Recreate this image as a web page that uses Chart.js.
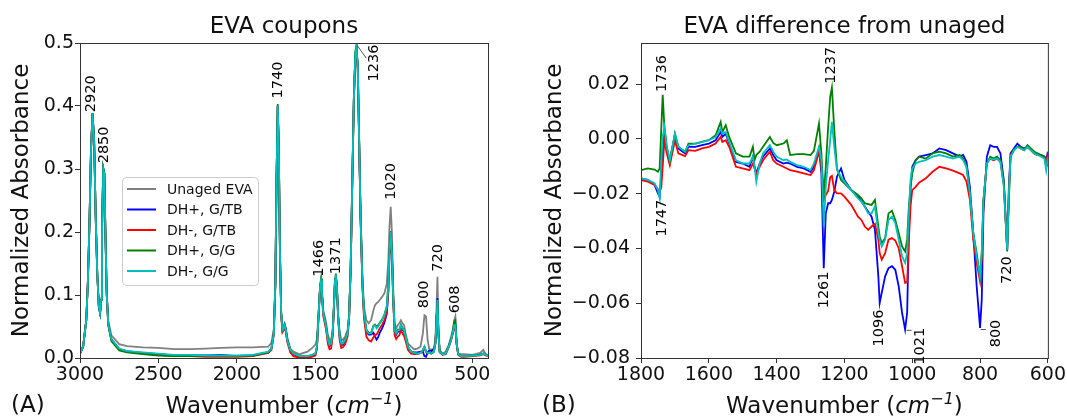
<!DOCTYPE html>
<html>
<head>
<meta charset="utf-8">
<script src="https://cdn.jsdelivr.net/npm/chart.js@4.4.1/dist/chart.umd.min.js"></script>
<style>
  body { margin: 0; background: #fff; width: 1067px; height: 418px; overflow: hidden; position: relative; }
  canvas { position: absolute; top: 0; }
</style>
</head>
<body>
<canvas id="chartA" width="533" height="418" style="left:0"></canvas>
<canvas id="chartB" width="534" height="418" style="left:533px"></canvas>
<script>
// ---- (A) EVA coupons ----
const wavenumberA = [3000, 2980, 2960, 2950, 2940, 2930, 2920, 2910, 2900, 2890,
  2880, 2872, 2865, 2860, 2852, 2845, 2838, 2830, 2820, 2800,
  2750, 2700, 2600, 2500, 2400, 2300, 2200, 2100, 2000, 1900,
  1800, 1780, 1765, 1755, 1748, 1740, 1733, 1726, 1718, 1710,
  1703, 1696, 1688, 1680, 1660, 1640, 1600, 1550, 1520, 1500,
  1490, 1480, 1470, 1464, 1458, 1450, 1440, 1432, 1420, 1410,
  1400, 1390, 1382, 1375, 1370, 1363, 1355, 1345, 1335, 1325,
  1310, 1295, 1285, 1275, 1265, 1255, 1245, 1238, 1230, 1222,
  1212, 1200, 1190, 1175, 1160, 1145, 1130, 1120, 1110, 1100,
  1090, 1075, 1060, 1045, 1035, 1028, 1020, 1012, 1005, 995,
  985, 975, 965, 955, 945, 935, 925, 910, 890, 870,
  850, 830, 815, 805, 795, 785, 775, 760, 745, 735,
  728, 722, 716, 708, 690, 670, 650, 635, 625, 615,
  608, 600, 590, 570, 550, 500, 450, 430, 415, 400];

const unagedA = [0.008, 0.020, 0.062, 0.121, 0.210, 0.330, 0.388, 0.346, 0.226, 0.136,
  0.084, 0.074, 0.095, 0.200, 0.301, 0.294, 0.200, 0.108, 0.060, 0.036,
  0.022, 0.019, 0.017, 0.016, 0.014, 0.014, 0.015, 0.016, 0.017, 0.017,
  0.018, 0.024, 0.046, 0.122, 0.279, 0.400, 0.331, 0.173, 0.075, 0.049,
  0.051, 0.055, 0.048, 0.034, 0.015, 0.010, 0.006, 0.010, 0.016, 0.021,
  0.030, 0.072, 0.114, 0.121, 0.106, 0.076, 0.066, 0.057, 0.036, 0.029,
  0.029, 0.044, 0.084, 0.125, 0.131, 0.115, 0.071, 0.040, 0.029, 0.029,
  0.034, 0.044, 0.070, 0.148, 0.279, 0.410, 0.483, 0.494, 0.463, 0.360,
  0.230, 0.129, 0.081, 0.060, 0.055, 0.060, 0.076, 0.084, 0.087, 0.089,
  0.092, 0.097, 0.103, 0.118, 0.156, 0.208, 0.240, 0.198, 0.118, 0.055,
  0.047, 0.052, 0.055, 0.060, 0.055, 0.052, 0.039, 0.023, 0.018, 0.014,
  0.015, 0.018, 0.039, 0.068, 0.066, 0.029, 0.015, 0.013, 0.015, 0.029,
  0.080, 0.129, 0.050, 0.013, 0.007, 0.010, 0.021, 0.034, 0.044, 0.060,
  0.066, 0.025, 0.007, 0.006, 0.006, 0.005, 0.008, 0.013, 0.006, 0.005];

const dhPlusGtbA = [0.007, 0.018, 0.060, 0.120, 0.210, 0.330, 0.388, 0.346, 0.224, 0.134,
  0.081, 0.071, 0.092, 0.198, 0.301, 0.293, 0.198, 0.103, 0.054, 0.030,
  0.014, 0.011, 0.008, 0.006, 0.004, 0.004, 0.004, 0.005, 0.003, 0.004,
  0.009, 0.015, 0.039, 0.118, 0.277, 0.400, 0.330, 0.171, 0.071, 0.044,
  0.047, 0.052, 0.044, 0.029, 0.012, 0.006, 0.002, 0.002, 0.004, 0.006,
  0.017, 0.065, 0.112, 0.122, 0.102, 0.070, 0.059, 0.049, 0.027, 0.019,
  0.021, 0.038, 0.080, 0.123, 0.131, 0.112, 0.065, 0.032, 0.021, 0.021,
  0.027, 0.038, 0.065, 0.144, 0.276, 0.409, 0.481, 0.490, 0.460, 0.355,
  0.222, 0.116, 0.069, 0.042, 0.037, 0.037, 0.040, 0.034, 0.029, 0.033,
  0.040, 0.047, 0.056, 0.070, 0.105, 0.160, 0.195, 0.162, 0.100, 0.042,
  0.037, 0.042, 0.042, 0.050, 0.045, 0.042, 0.032, 0.016, 0.010, 0.009,
  0.009, 0.010, 0.010, 0.003, 0.002, 0.008, 0.012, 0.011, 0.014, 0.025,
  0.062, 0.095, 0.040, 0.010, 0.006, 0.007, 0.018, 0.029, 0.039, 0.051,
  0.051, 0.022, 0.006, 0.003, 0.003, 0.004, 0.005, 0.007, 0.005, 0.004];

const dhMinusGtbA = [0.007, 0.018, 0.060, 0.120, 0.210, 0.330, 0.388, 0.346, 0.224, 0.134,
  0.081, 0.071, 0.092, 0.198, 0.301, 0.293, 0.198, 0.103, 0.053, 0.029,
  0.013, 0.010, 0.007, 0.005, 0.003, 0.003, 0.002, 0.002, 0.002, 0.003,
  0.008, 0.013, 0.037, 0.116, 0.275, 0.399, 0.328, 0.169, 0.068, 0.041,
  0.044, 0.049, 0.041, 0.026, 0.009, 0.003, 0.000, 0.000, 0.002, 0.004,
  0.015, 0.063, 0.111, 0.121, 0.100, 0.067, 0.055, 0.045, 0.022, 0.014,
  0.015, 0.033, 0.077, 0.122, 0.130, 0.110, 0.062, 0.028, 0.016, 0.017,
  0.022, 0.034, 0.061, 0.141, 0.274, 0.408, 0.481, 0.492, 0.459, 0.352,
  0.218, 0.111, 0.062, 0.034, 0.028, 0.026, 0.033, 0.037, 0.037, 0.042,
  0.047, 0.053, 0.060, 0.074, 0.110, 0.165, 0.198, 0.163, 0.097, 0.036,
  0.030, 0.034, 0.036, 0.044, 0.039, 0.035, 0.027, 0.013, 0.007, 0.006,
  0.006, 0.008, 0.011, 0.016, 0.009, 0.007, 0.008, 0.007, 0.010, 0.023,
  0.060, 0.090, 0.038, 0.009, 0.005, 0.006, 0.017, 0.028, 0.038, 0.050,
  0.051, 0.022, 0.005, 0.002, 0.002, 0.003, 0.004, 0.006, 0.004, 0.003];

const dhPlusGgA = [0.007, 0.018, 0.060, 0.120, 0.210, 0.330, 0.389, 0.346, 0.224, 0.134,
  0.081, 0.071, 0.092, 0.198, 0.302, 0.293, 0.198, 0.102, 0.052, 0.027,
  0.012, 0.009, 0.006, 0.004, 0.003, 0.003, 0.003, 0.003, 0.003, 0.004,
  0.009, 0.015, 0.040, 0.120, 0.280, 0.403, 0.332, 0.172, 0.071, 0.044,
  0.047, 0.053, 0.045, 0.030, 0.013, 0.007, 0.003, 0.003, 0.005, 0.007,
  0.018, 0.067, 0.115, 0.126, 0.105, 0.072, 0.061, 0.051, 0.030, 0.022,
  0.024, 0.040, 0.082, 0.126, 0.134, 0.115, 0.067, 0.035, 0.024, 0.024,
  0.030, 0.040, 0.067, 0.147, 0.280, 0.413, 0.487, 0.497, 0.465, 0.360,
  0.226, 0.119, 0.072, 0.045, 0.040, 0.040, 0.051, 0.053, 0.050, 0.052,
  0.056, 0.061, 0.069, 0.082, 0.119, 0.172, 0.201, 0.167, 0.104, 0.045,
  0.040, 0.045, 0.045, 0.053, 0.048, 0.045, 0.035, 0.018, 0.010, 0.008,
  0.007, 0.008, 0.013, 0.018, 0.011, 0.008, 0.008, 0.007, 0.010, 0.023,
  0.060, 0.090, 0.039, 0.010, 0.006, 0.007, 0.019, 0.030, 0.041, 0.058,
  0.060, 0.024, 0.006, 0.003, 0.003, 0.004, 0.005, 0.007, 0.005, 0.004];

const dhMinusGgA = [0.007, 0.018, 0.060, 0.120, 0.210, 0.330, 0.388, 0.346, 0.224, 0.134,
  0.081, 0.071, 0.092, 0.198, 0.301, 0.293, 0.198, 0.103, 0.055, 0.030,
  0.015, 0.011, 0.009, 0.007, 0.005, 0.005, 0.004, 0.004, 0.004, 0.005,
  0.010, 0.015, 0.039, 0.118, 0.277, 0.400, 0.330, 0.171, 0.071, 0.044,
  0.047, 0.052, 0.044, 0.029, 0.013, 0.007, 0.003, 0.003, 0.005, 0.007,
  0.018, 0.066, 0.113, 0.123, 0.103, 0.071, 0.060, 0.050, 0.029, 0.021,
  0.023, 0.039, 0.081, 0.124, 0.132, 0.113, 0.066, 0.034, 0.023, 0.023,
  0.029, 0.039, 0.066, 0.145, 0.277, 0.410, 0.483, 0.494, 0.462, 0.357,
  0.224, 0.118, 0.071, 0.044, 0.039, 0.039, 0.050, 0.052, 0.047, 0.050,
  0.055, 0.060, 0.068, 0.081, 0.118, 0.171, 0.200, 0.166, 0.103, 0.044,
  0.039, 0.044, 0.044, 0.052, 0.047, 0.044, 0.034, 0.018, 0.010, 0.008,
  0.007, 0.008, 0.013, 0.018, 0.010, 0.008, 0.008, 0.007, 0.010, 0.023,
  0.060, 0.092, 0.039, 0.010, 0.006, 0.007, 0.018, 0.029, 0.039, 0.052,
  0.052, 0.023, 0.006, 0.003, 0.003, 0.004, 0.005, 0.007, 0.005, 0.004];

const xTicksA = [3000, 2500, 2000, 1500, 1000, 500];
const yTicksA = [0, 0.1, 0.2, 0.3, 0.4, 0.5];
// peak labels: text, wavenumber, absorbance where the rotated text starts
const peaksA = [
  ['2920', 2926, 0.390], ['2850', 2847, 0.309], ['1740', 1739, 0.412],
  ['1236', 1126, 0.439], ['1466', 1475, 0.129], ['1371', 1369, 0.133],
  ['1020', 1019, 0.251], ['800', 807, 0.079], ['720', 714, 0.137], ['608', 610, 0.071]
];

// ---- (B) EVA difference from unaged ----
const wavenumberB = [1800, 1780, 1760, 1750, 1745, 1740, 1736, 1731, 1724, 1715,
  1700, 1690, 1670, 1660, 1640, 1620, 1600, 1580, 1565, 1560,
  1550, 1540, 1520, 1500, 1480, 1470, 1465, 1460, 1450, 1440,
  1420, 1410, 1400, 1380, 1370, 1360, 1340, 1320, 1300, 1290,
  1275, 1268, 1261, 1255, 1248, 1242, 1237, 1230, 1222, 1210,
  1200, 1180, 1160, 1150, 1140, 1130, 1120, 1110, 1100, 1096,
  1090, 1080, 1070, 1060, 1050, 1040, 1030, 1021, 1015, 1010,
  1005, 1000, 990, 980, 960, 940, 920, 900, 880, 860,
  850, 840, 830, 820, 810, 800, 795, 790, 780, 770,
  760, 750, 740, 730, 720, 715, 710, 700, 690, 680,
  670, 660, 650, 640, 630, 620, 610, 605, 600];

const dhPlusGtbB = [-0.0144, -0.0150, -0.0168, -0.0199, -0.0211, -0.0126, -0.0029, 0.0019, -0.0041, -0.0078,
  0.0013, -0.0035, -0.0053, -0.0029, -0.0029, -0.0023, -0.0017, -0.0005, 0.0025, 0.0007,
  0.0019, -0.0017, -0.0084, -0.0090, -0.0102, -0.0065, -0.0102, -0.0126, -0.0090, -0.0065,
  -0.0035, -0.0059, -0.0078, -0.0090, -0.0087, -0.0090, -0.0102, -0.0108, -0.0120, -0.0102,
  -0.0035, -0.0126, -0.0472, -0.0272, -0.0235, -0.0235, -0.0223, -0.0193, -0.0138, -0.0108,
  -0.0150, -0.0187, -0.0211, -0.0229, -0.0247, -0.0265, -0.0284, -0.0332, -0.0502, -0.0599,
  -0.0562, -0.0502, -0.0472, -0.0465, -0.0478, -0.0538, -0.0635, -0.0696, -0.0635, -0.0344,
  -0.0175, -0.0102, -0.0078, -0.0065, -0.0059, -0.0053, -0.0035, -0.0041, -0.0053, -0.0065,
  -0.0059, -0.0084, -0.0175, -0.0344, -0.0538, -0.0690, -0.0587, -0.0272, -0.0065, -0.0023,
  -0.0029, -0.0029, -0.0053, -0.0150, -0.0405, -0.0175, -0.0053, -0.0035, -0.0017, -0.0029,
  -0.0035, -0.0029, -0.0041, -0.0053, -0.0059, -0.0059, -0.0065, -0.0078, -0.0047];

const dhMinusGtbB = [-0.0150, -0.0156, -0.0168, -0.0184, -0.0193, -0.0175, -0.0102, -0.0005, -0.0053, -0.0096,
  -0.0005, -0.0053, -0.0063, -0.0041, -0.0044, -0.0035, -0.0029, -0.0017, 0.0007, -0.0011,
  -0.0005, -0.0029, -0.0102, -0.0108, -0.0114, -0.0090, -0.0108, -0.0126, -0.0102, -0.0078,
  -0.0047, -0.0078, -0.0090, -0.0102, -0.0108, -0.0114, -0.0120, -0.0126, -0.0132, -0.0114,
  -0.0047, -0.0102, -0.0223, -0.0205, -0.0190, -0.0140, -0.0135, -0.0187, -0.0199, -0.0199,
  -0.0211, -0.0241, -0.0284, -0.0296, -0.0320, -0.0332, -0.0320, -0.0310, -0.0368, -0.0417,
  -0.0441, -0.0417, -0.0368, -0.0362, -0.0371, -0.0399, -0.0465, -0.0526, -0.0524, -0.0368,
  -0.0247, -0.0187, -0.0175, -0.0160, -0.0144, -0.0120, -0.0102, -0.0108, -0.0116, -0.0126,
  -0.0132, -0.0156, -0.0223, -0.0368, -0.0453, -0.0520, -0.0441, -0.0223, -0.0090, -0.0072,
  -0.0078, -0.0072, -0.0084, -0.0162, -0.0405, -0.0199, -0.0059, -0.0041, -0.0029, -0.0035,
  -0.0041, -0.0029, -0.0041, -0.0053, -0.0059, -0.0059, -0.0065, -0.0090, -0.0053];

const dhPlusGgB = [-0.0114, -0.0108, -0.0112, -0.0120, -0.0108, 0.0044, 0.0161, 0.0044, -0.0029, -0.0084,
  0.0019, -0.0029, -0.0047, -0.0017, -0.0017, -0.0011, -0.0005, 0.0013, 0.0062, 0.0025,
  0.0050, 0.0007, -0.0053, -0.0065, -0.0065, -0.0029, -0.0078, -0.0059, -0.0047, -0.0029,
  0.0007, -0.0015, -0.0023, -0.0017, -0.0005, -0.0059, -0.0056, -0.0056, -0.0059, -0.0044,
  0.0056, -0.0053, -0.0211, -0.0102, 0.0044, 0.0153, 0.0187, 0.0032, -0.0108, -0.0150,
  -0.0162, -0.0187, -0.0205, -0.0217, -0.0235, -0.0238, -0.0241, -0.0223, -0.0320, -0.0356,
  -0.0381, -0.0362, -0.0272, -0.0262, -0.0296, -0.0344, -0.0393, -0.0411, -0.0368, -0.0247,
  -0.0175, -0.0126, -0.0078, -0.0065, -0.0072, -0.0053, -0.0047, -0.0053, -0.0065, -0.0059,
  -0.0072, -0.0102, -0.0199, -0.0344, -0.0417, -0.0502, -0.0417, -0.0223, -0.0090, -0.0065,
  -0.0072, -0.0065, -0.0078, -0.0162, -0.0411, -0.0223, -0.0065, -0.0041, -0.0029, -0.0029,
  -0.0041, -0.0023, -0.0035, -0.0047, -0.0053, -0.0059, -0.0065, -0.0102, -0.0090];

const dhMinusGgB = [-0.0144, -0.0150, -0.0162, -0.0187, -0.0217, -0.0078, 0.0007, 0.0044, -0.0029, -0.0078,
  0.0019, -0.0029, -0.0047, -0.0023, -0.0017, -0.0011, -0.0005, 0.0007, 0.0038, 0.0019,
  0.0025, -0.0011, -0.0078, -0.0090, -0.0090, -0.0065, -0.0102, -0.0156, -0.0090, -0.0053,
  -0.0023, -0.0047, -0.0065, -0.0078, -0.0075, -0.0084, -0.0096, -0.0102, -0.0114, -0.0090,
  -0.0029, -0.0078, -0.0320, -0.0175, -0.0078, -0.0005, 0.0062, -0.0029, -0.0114, -0.0138,
  -0.0156, -0.0187, -0.0217, -0.0229, -0.0247, -0.0272, -0.0272, -0.0247, -0.0344, -0.0368,
  -0.0393, -0.0368, -0.0296, -0.0284, -0.0308, -0.0368, -0.0429, -0.0453, -0.0417, -0.0272,
  -0.0150, -0.0108, -0.0090, -0.0084, -0.0078, -0.0065, -0.0059, -0.0065, -0.0072, -0.0065,
  -0.0078, -0.0102, -0.0199, -0.0344, -0.0429, -0.0502, -0.0417, -0.0223, -0.0090, -0.0072,
  -0.0075, -0.0072, -0.0084, -0.0175, -0.0405, -0.0199, -0.0065, -0.0041, -0.0029, -0.0035,
  -0.0041, -0.0029, -0.0041, -0.0053, -0.0059, -0.0065, -0.0072, -0.0114, -0.0065];

const xTicksB = [1800, 1600, 1400, 1200, 1000, 800, 600];
const yTicksB = [-0.08, -0.06, -0.04, -0.02, 0, 0.02];
// labels above a peak start at the point, labels below a dip end at it
const peaksB = [
  ['1736', 1738, 0.0171], ['1237', 1238, 0.0201]
];
const dipsB = [
  ['1747', 1738, -0.0222], ['1261', 1260, -0.0484], ['1096', 1096, -0.0623],
  ['1021', 977, -0.0690], ['800', 751, -0.0660], ['720', 721, -0.0429]
];

const seriesNames = ['Unaged EVA', 'DH+, G/TB', 'DH-, G/TB', 'DH+, G/G', 'DH-, G/G'];
const seriesColors = ['#808080', '#0000ff', '#ff0000', '#008000', '#00bfbf'];

const FONT = 'DejaVu Sans';
const INK = '#111';

function drawText(ctx, parts, cx, base) {
  // parts: [text, font, raise]
  let total = 0;
  parts.forEach(p => { ctx.font = p[1]; total += ctx.measureText(p[0]).width; });
  let xx = cx - total / 2;
  ctx.textAlign = 'left';
  ctx.textBaseline = 'alphabetic';
  parts.forEach(p => {
    ctx.font = p[1];
    ctx.fillText(p[0], xx, base - p[2]);
    xx += ctx.measureText(p[0]).width;
  });
}

function makeDecor(cfg) {
  return {
    id: 'decor',
    afterDraw(chart) {
      const { ctx, chartArea: a } = chart;
      const xs = chart.scales.x, ys = chart.scales.y;
      ctx.save();
      // frame
      ctx.strokeStyle = '#333';
      ctx.lineWidth = 1;
      ctx.strokeRect(a.left + 0.5, a.top + 0.5, a.right - a.left, a.bottom - a.top);

      ctx.fillStyle = INK;
      const cx = (a.left + a.right) / 2;
      drawText(ctx, [[cfg.title, `23px "${FONT}"`, 0]], cx, 33);
      drawText(ctx, [
        ['Wavenumber (', `23px "${FONT}"`, 0],
        ['cm', `italic 23px "${FONT}"`, 0],
        ['\u22121', `italic 16px "${FONT}"`, 9],
        [')', `23px "${FONT}"`, 0]
      ], cx, 413);
      ctx.font = `23px "${FONT}"`;
      ctx.textAlign = 'left';
      ctx.fillText(cfg.panel, cfg.panelX, 412);

      // rotated peak labels
      ctx.font = `14.5px "${FONT}"`;
      ctx.fillStyle = '#000';
      const put = (list, align) => list.forEach(([t, wx, wy]) => {
        ctx.save();
        ctx.translate(xs.getPixelForValue(wx), ys.getPixelForValue(wy));
        ctx.rotate(-Math.PI / 2);
        ctx.textAlign = align;
        ctx.textBaseline = 'middle';
        ctx.fillText(t, 0, 0);
        ctx.restore();
      });
      put(cfg.above || [], 'left');
      put(cfg.below || [], 'right');

      // short leader lines
      ctx.strokeStyle = '#555';
      ctx.lineWidth = 1;
      (cfg.leaders || []).forEach(([x1, y1, x2, y2]) => {
        ctx.beginPath();
        ctx.moveTo(xs.getPixelForValue(x1), ys.getPixelForValue(y1));
        ctx.lineTo(xs.getPixelForValue(x2), ys.getPixelForValue(y2));
        ctx.stroke();
      });

      // legend box
      if (cfg.legend) {
        const L = cfg.legend;
        ctx.fillStyle = 'rgba(255,255,255,0.8)';
        ctx.strokeStyle = '#cccccc';
        ctx.beginPath();
        ctx.roundRect(L.x + 0.5, L.y + 0.5, L.w, L.h, 4);
        ctx.fill();
        ctx.stroke();
        ctx.font = `14px "${FONT}"`;
        ctx.textAlign = 'left';
        ctx.textBaseline = 'middle';
        chart.data.datasets.forEach((ds, i) => {
          const ry = L.y + L.first + i * L.row;
          ctx.strokeStyle = ds.borderColor;
          ctx.lineWidth = 2;
          ctx.beginPath();
          ctx.moveTo(L.x + 5, ry);
          ctx.lineTo(L.x + 34, ry);
          ctx.stroke();
          ctx.fillStyle = INK;
          ctx.fillText(ds.label, L.x + 45, ry + 1);
        });
      }
      ctx.restore();
    }
  };
}

function buildChart(id, xs, series, cfg) {
  const n = series.length;
  return new Chart(document.getElementById(id), {
    type: 'line',
    data: {
      datasets: series.map((s, i) => ({
        label: s.name,
        data: xs.map((x, k) => ({ x: x, y: s.values[k] })),
        borderColor: s.color,
        borderWidth: 1.8,
        pointRadius: 0,
        tension: 0,
        fill: false,
        order: n - i
      }))
    },
    options: {
      responsive: false,
      animation: false,
      events: [],
      layout: { padding: { top: 43, right: cfg.padRight, left: 0, bottom: 0 } },
      plugins: { legend: { display: false }, tooltip: { enabled: false } },
      scales: {
        x: {
          type: 'linear', reverse: true, min: cfg.xMin, max: cfg.xMax,
          afterBuildTicks: s => { s.ticks = cfg.xTicks.map(v => ({ value: v })); },
          afterFit: s => { s.height = 60; },
          grid: { drawOnChartArea: false, tickLength: 5, color: '#333' },
          border: { display: false },
          ticks: { font: { family: FONT, size: 19 }, color: INK, padding: 1, maxRotation: 0, autoSkip: false,
                   callback: v => String(v) }
        },
        y: {
          type: 'linear', min: cfg.yMin, max: cfg.yMax,
          afterBuildTicks: s => { s.ticks = cfg.yTicks.map(v => ({ value: v })); },
          afterFit: s => { s.width = cfg.yWidth; },
          grid: { drawOnChartArea: false, tickLength: 5, color: '#333' },
          border: { display: false },
          ticks: { font: { family: FONT, size: 19 }, color: INK, padding: cfg.yPad, autoSkip: false,
                   callback: cfg.yFormat },
          title: { display: true, text: 'Normalized Absorbance', color: INK,
                   font: { family: FONT, size: 23 }, padding: { top: 8, bottom: 0 } }
        }
      }
    },
    plugins: [makeDecor(cfg)]
  });
}

buildChart('chartA', wavenumberA, [
  { name: seriesNames[0], color: seriesColors[0], values: unagedA },
  { name: seriesNames[1], color: seriesColors[1], values: dhPlusGtbA },
  { name: seriesNames[2], color: seriesColors[2], values: dhMinusGtbA },
  { name: seriesNames[3], color: seriesColors[3], values: dhPlusGgA },
  { name: seriesNames[4], color: seriesColors[4], values: dhMinusGgA }
], {
  title: 'EVA coupons', panel: '(A)', panelX: 11,
  xMin: 400, xMax: 3000, xTicks: xTicksA,
  yMin: 0, yMax: 0.5, yTicks: yTicksA, yWidth: 80, yPad: 1, padRight: 45,
  yFormat: v => v.toFixed(1),
  above: peaksA,
  leaders: [[1236, 0.497, 1176, 0.476]],
  legend: { x: 122, y: 177, w: 136, h: 108, first: 12, row: 20.5 }
});

buildChart('chartB', wavenumberB, [
  { name: seriesNames[1], color: seriesColors[1], values: dhPlusGtbB },
  { name: seriesNames[2], color: seriesColors[2], values: dhMinusGtbB },
  { name: seriesNames[3], color: seriesColors[3], values: dhPlusGgB },
  { name: seriesNames[4], color: seriesColors[4], values: dhMinusGgB }
], {
  title: 'EVA difference from unaged', panel: '(B)', panelX: 9,
  xMin: 600, xMax: 1800, xTicks: xTicksB,
  yMin: -0.08, yMax: 0.035, yTicks: yTicksB, yWidth: 108, yPad: 6, padRight: 19,
  yFormat: v => (v < 0 ? '\u2212' : '') + Math.abs(v).toFixed(2),
  above: peaksB, below: dipsB,
  leaders: [[1017, -0.0699, 1002, -0.0699], [798, -0.0696, 783, -0.0696]]
});
</script>
</body>
</html>
